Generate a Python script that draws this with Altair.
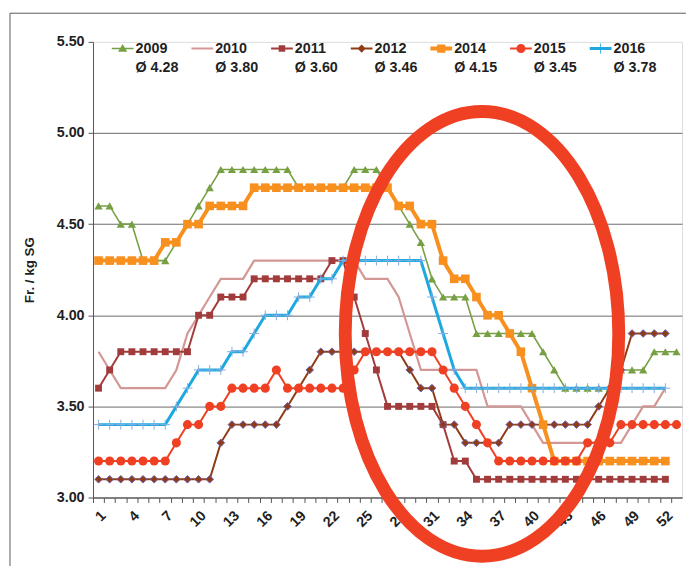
import altair as alt
import pandas as pd

years = ["2009", "2010", "2011", "2012", "2014", "2015", "2016"]
averages = ["4.28", "3.80", "3.60", "3.46", "4.15", "3.45", "3.78"]

v2009 = [4.6, 4.6, 4.5, 4.5, 4.3, 4.3, 4.3, 4.4, 4.5, 4.6,
         4.7, 4.8, 4.8, 4.8, 4.8, 4.8, 4.8, 4.8, 4.7, 4.7,
         4.7, 4.7, 4.7, 4.8, 4.8, 4.8, 4.7, 4.6, 4.5, 4.4,
         4.2, 4.1, 4.1, 4.1, 3.9, 3.9, 3.9, 3.9, 3.9, 3.9,
         3.8, 3.7, 3.6, 3.6, 3.6, 3.6, 3.6, 3.7, 3.7, 3.7,
         3.8, 3.8, 3.8]
v2010 = [3.8, 3.7, 3.6, 3.6, 3.6, 3.6, 3.6, 3.7, 3.9, 4.0,
         4.1, 4.2, 4.2, 4.2, 4.3, 4.3, 4.3, 4.3, 4.3, 4.3,
         4.3, 4.3, 4.3, 4.3, 4.2, 4.2, 4.2, 4.1, 3.9, 3.7,
         3.7, 3.7, 3.7, 3.7, 3.7, 3.5, 3.5, 3.5, 3.5, 3.4,
         3.3, 3.3, 3.3, 3.3, 3.3, 3.3, 3.3, 3.3, 3.4, 3.5,
         3.5, 3.6]
v2011 = [3.6, 3.7, 3.8, 3.8, 3.8, 3.8, 3.8, 3.8, 3.8, 4.0,
         4.0, 4.1, 4.1, 4.1, 4.2, 4.2, 4.2, 4.2, 4.2, 4.2,
         4.2, 4.3, 4.3, 4.1, 3.9, 3.7, 3.5, 3.5, 3.5, 3.5,
         3.5, 3.4, 3.2, 3.2, 3.1, 3.1, 3.1, 3.1, 3.1, 3.1,
         3.1, 3.1, 3.1, 3.1, 3.1, 3.1, 3.1, 3.1, 3.1, 3.1,
         3.1, 3.1]
v2012 = [3.1, 3.1, 3.1, 3.1, 3.1, 3.1, 3.1, 3.1, 3.1, 3.1,
         3.1, 3.3, 3.4, 3.4, 3.4, 3.4, 3.4, 3.5, 3.6, 3.7,
         3.8, 3.8, 3.8, 3.8, 3.8, 3.8, 3.8, 3.8, 3.7, 3.6,
         3.6, 3.4, 3.4, 3.3, 3.3, 3.3, 3.3, 3.4, 3.4, 3.4,
         3.4, 3.4, 3.4, 3.4, 3.4, 3.5, 3.6, 3.7, 3.9, 3.9,
         3.9, 3.9]
v2014 = [4.3, 4.3, 4.3, 4.3, 4.3, 4.3, 4.4, 4.4, 4.5, 4.5,
         4.6, 4.6, 4.6, 4.6, 4.7, 4.7, 4.7, 4.7, 4.7, 4.7,
         4.7, 4.7, 4.7, 4.7, 4.7, 4.7, 4.7, 4.6, 4.6, 4.5,
         4.5, 4.3, 4.2, 4.2, 4.1, 4.0, 4.0, 3.9, 3.8, 3.6,
         3.4, 3.2, 3.2, 3.2, 3.2, 3.2, 3.2, 3.2, 3.2, 3.2,
         3.2, 3.2]
v2015 = [3.2, 3.2, 3.2, 3.2, 3.2, 3.2, 3.2, 3.3, 3.4, 3.4,
         3.5, 3.5, 3.6, 3.6, 3.6, 3.6, 3.7, 3.6, 3.6, 3.6,
         3.6, 3.6, 3.6, 3.7, 3.8, 3.8, 3.8, 3.8, 3.8, 3.8,
         3.8, 3.7, 3.6, 3.5, 3.4, 3.3, 3.2, 3.2, 3.2, 3.2,
         3.2, 3.2, 3.2, 3.2, 3.3, 3.3, 3.3, 3.4, 3.4, 3.4,
         3.4, 3.4, 3.4]
v2016 = [3.4, 3.4, 3.4, 3.4, 3.4, 3.4, 3.4, 3.5, 3.6, 3.7,
         3.7, 3.7, 3.8, 3.8, 3.9, 4.0, 4.0, 4.0, 4.1, 4.1,
         4.2, 4.2, 4.3, 4.3, 4.3, 4.3, 4.3, 4.3, 4.3, 4.3,
         4.1, 3.9, 3.7, 3.6, 3.6, 3.6, 3.6, 3.6, 3.6, 3.6,
         3.6, 3.6, 3.6, 3.6, 3.6, 3.6, 3.6, 3.6, 3.6, 3.6,
         3.6, 3.6]
series_values = [v2009, v2010, v2011, v2012, v2014, v2015, v2016]

y_ticks = [3.0, 3.5, 4.0, 4.5, 5.0, 5.5]
x_weeks = list(range(1, 54))

# annotation ellipse centre, in data units (week, Fr./kg)
ellipse_week = [35.5]
ellipse_value = [3.898]

rows = []
for yr, vals in zip(years, series_values):
    for i, v in enumerate(vals, start=1):
        rows.append({"year": yr, "week": i, "value": v})
df = pd.DataFrame(rows)

FONT = "Liberation Sans"
TXT = "#1f1f1f"
AX = "#555555"
FS = 14.5

W, H = 596, 461
step = W / 53.0

styles = {
    "2009": dict(color="#77A045", lw=1.6, shape="triangle-up", size=70),
    "2010": dict(color="#D39795", lw=2.2, shape=None, size=0),
    "2011": dict(color="#A23B3B", lw=2.0, shape="square", size=49),
    "2012": dict(color="#8E3B16", lw=2.0, shape="diamond", size=60, stroke="#6F63B5"),
    "2014": dict(color="#F7901E", lw=4.0, shape="square", size=76),
    "2015": dict(color="#F04023", lw=2.0, shape="circle", size=85),
    "2016": dict(color="#1DA8E0", lw=3.0, shape="M-1,0H1M0,-1V1", size=100, plus="#86AEE0"),
}

x_scale = alt.Scale(domain=[0.5, 53.5], nice=False, zero=False)
y_scale = alt.Scale(domain=[3.0, 5.5], nice=False, zero=False)

x_axis = alt.Axis(
    values=x_weeks, tickOffset=-step / 2, labelOffset=step / 2,
    labelExpr="(datum.value - 1) % 3 == 0 ? datum.label : ''",
    labelAngle=-45, labelOverlap=False, labelFlush=False, grid=False,
    title=None, tickSize=5, tickColor=AX, domainColor=AX,
    labelFont=FONT, labelFontSize=FS, labelFontWeight="bold", labelColor=TXT,
    labelPadding=6,
)
y_axis = alt.Axis(
    values=y_ticks, format=".2f", title="Fr. / kg SG", grid=True,
    gridColor="#6a6a6a", gridWidth=1,
    gridOpacity={"condition": {"test": "datum.value >= 5.5", "value": 0}, "value": 1},
    tickSize=5, tickColor=AX, domainColor=AX,
    labelFont=FONT, labelFontSize=FS, labelFontWeight="bold", labelColor=TXT,
    labelPadding=4, titleFont=FONT, titleFontSize=13.5, titleFontWeight="bold",
    titleColor=TXT, titlePadding=20,
)

X = alt.X("week:Q", scale=x_scale, axis=x_axis)
Y = alt.Y("value:Q", scale=y_scale, axis=y_axis)

layers = []

frame = alt.Chart(pd.DataFrame({"f": [0]})).mark_rect(
    filled=False, stroke="#5a5a5a", strokeWidth=1
).encode(x=alt.value(-84), x2=alt.value(W + 60), y=alt.value(-29), y2=alt.value(H + 120))
layers.append(frame)

for yr in years:
    st = styles[yr]
    d = df[df.year == yr]
    base = alt.Chart(d).encode(x=X, y=Y)
    layers.append(base.mark_line(color=st["color"], strokeWidth=st["lw"]))
    if st["shape"] is None:
        continue
    if "plus" in st:
        pts = base.mark_point(shape=st["shape"], size=st["size"], filled=False,
                              stroke=st["plus"], strokeWidth=1, opacity=1)
    elif "stroke" in st:
        pts = base.mark_point(shape=st["shape"], size=st["size"], filled=True,
                              fill=st["color"], stroke=st["stroke"], strokeWidth=1, opacity=1)
    else:
        pts = base.mark_point(shape=st["shape"], size=st["size"], filled=True,
                              color=st["color"], opacity=1)
    layers.append(pts)

# legend symbols: line segment with marker, unit = 11 px
DY = -0.05


def rect(x0, y0, x1, y1):
    return f"M{x0:.3f},{y0:.3f}H{x1:.3f}V{y1:.3f}H{x0:.3f}Z"


def leg_path(yr):
    st = styles[yr]
    t = st["lw"] / 22.0
    p = rect(-1, DY - t, 1, DY + t)
    s = st["shape"]
    if s == "triangle-up":
        p += f"M0,{DY-0.42:.3f}L0.42,{DY+0.3:.3f}L-0.42,{DY+0.3:.3f}Z"
    elif s == "square":
        a = 0.3 if yr == "2011" else 0.38
        p += rect(-a, DY - a, a, DY + a)
    elif s == "diamond":
        r = 0.38
        p += f"M0,{DY-r:.3f}L{r},{DY:.3f}L0,{DY+r:.3f}L{-r},{DY:.3f}Z"
    elif s == "circle":
        r = 0.42
        p += f"M{-r},{DY:.3f}A{r},{r},0,1,1,{r},{DY:.3f}A{r},{r},0,1,1,{-r},{DY:.3f}Z"
    elif s is None:
        p += rect(-0.3, DY - 0.08, 0.3, DY + 0.08)
    else:
        p += rect(-0.45, DY - 0.04, 0.45, DY + 0.04) + rect(-0.04, DY - 0.45, 0.04, DY + 0.45)
    return p


keys = [f"{y}|Ø {a}" for y, a in zip(years, averages)]
leg_colors = [styles[y]["color"] for y in years]
leg_shapes = [leg_path(y) for y in years]

legend = alt.Legend(
    title=None, orient="none", legendX=19, legendY=-4, direction="horizontal",
    columns=7, symbolSize=484, symbolStrokeWidth=0, labelFont=FONT,
    labelFontSize=FS, labelFontWeight="bold", labelColor=TXT, labelOffset=2,
    columnPadding=12.6, padding=0, labelExpr="split(datum.label, '|')",
)
leg_df = pd.DataFrame({"key": keys, "week": [1] * len(keys), "value": [4.0] * len(keys)})
leg_layer = alt.Chart(leg_df).transform_filter("false").mark_point(
    filled=True, opacity=1
).encode(
    x=X, y=Y,
    color=alt.Color("key:N", scale=alt.Scale(domain=keys, range=leg_colors), legend=legend),
    shape=alt.Shape("key:N", scale=alt.Scale(domain=keys, range=leg_shapes), legend=legend),
)
layers.append(leg_layer)

# red annotation ellipse (bezier path, rx/ry = 0.615)
a, b, k = 0.615, 1.0, 0.5523
ell = (f"M0,{-b}C{k*a:.4f},{-b} {a},{-k*b:.4f} {a},0"
       f"C{a},{k*b:.4f} {k*a:.4f},{b} 0,{b}"
       f"C{-k*a:.4f},{b} {-a},{k*b:.4f} {-a},0"
       f"C{-a},{-k*b:.4f} {-k*a:.4f},{-b} 0,{-b}Z")
ell_df = pd.DataFrame({"week": ellipse_week, "value": ellipse_value})
ellipse = alt.Chart(ell_df).mark_point(
    shape=ell, size=450 ** 2, filled=False, stroke="#F04023", strokeWidth=13, opacity=1
).encode(x=X, y=Y)
layers.append(ellipse)

chart = alt.layer(*layers).properties(
    width=W, height=H,
    autosize=alt.AutoSizeParams(type="none"),
    padding={"left": 86, "top": 31, "right": 4, "bottom": 66},
).configure_view(strokeWidth=0).configure(
    style={"guide-label": {"lineHeight": 19}}
)

chart.save("out.html", embed_options={"renderer": "svg", "actions": False})
